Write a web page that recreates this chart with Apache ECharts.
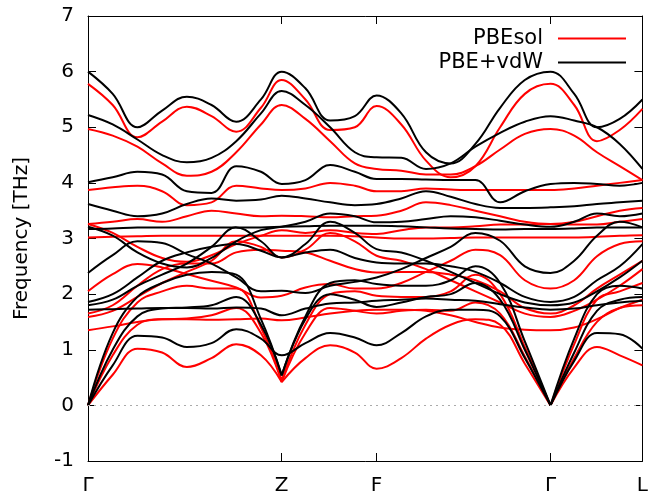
<!DOCTYPE html>
<html>
<head>
<meta charset="utf-8">
<script src="https://cdn.jsdelivr.net/npm/echarts@6/dist/echarts.min.js"></script>
<style>
  html, body { margin: 0; padding: 0; background: #fff; }
  #chart { width: 651px; height: 497px; }
</style>
</head>
<body>
<div id="chart"></div>
<script>
// path coordinate of each sample column (Γ at 0 ... L at 561)
const qPath = [0, 25, 50, 75, 100, 125, 150, 175, 196, 220, 245, 270, 292, 317, 342, 367, 392, 417, 442, 468, 492, 515, 538, 561];
const qTickPos = [0, 196, 292, 468, 561];
const qTickNames = ['Γ', 'Z', 'F', 'Γ', 'L'];
const posZ = 196, posGamma2 = 468;

// PBEsol bands (THz)
const sol1 = [0, 0.55, 1.02, 0.95, 0.69, 0.85, 1.1, 0.9, 0.42, 0.85, 1.08, 0.95, 0.66, 0.85, 1.2, 1.45, 1.55, 1.45, 0.75, 0, 0.68, 1.05, 0.9, 0.72];
const sol2 = [0, 0.9, 1.45, 1.55, 1.56, 1.62, 1.75, 1.3, 0.42, 1.3, 1.75, 1.7, 1.65, 1.7, 1.72, 1.7, 1.85, 1.65, 0.88, 0, 0.85, 1.5, 1.75, 1.8];
const sol3 = [0, 1.2, 1.85, 2.05, 2.15, 2.1, 2.1, 1.4, 0.45, 1.45, 2.0, 2.05, 1.97, 1.95, 1.95, 2.05, 2.35, 2.0, 1.05, 0, 1.1, 1.9, 2.05, 2.2];
const sol4 = [1.35, 1.42, 1.5, 1.55, 1.55, 1.54, 1.55, 1.56, 1.53, 1.58, 1.65, 1.7, 1.72, 1.72, 1.7, 1.62, 1.5, 1.4, 1.36, 1.35, 1.4, 1.55, 1.75, 1.9];
const sol5 = [1.59, 1.7, 1.95, 2.2, 2.4, 2.6, 2.95, 2.85, 2.66, 2.8, 3.1, 2.95, 2.69, 2.6, 2.45, 2.25, 2.05, 1.85, 1.65, 1.59, 1.7, 1.9, 2.15, 2.45];
const sol6 = [1.65, 1.8, 2.15, 2.45, 2.55, 2.55, 2.75, 2.8, 2.78, 2.75, 2.6, 2.45, 2.39, 2.4, 2.4, 2.35, 2.25, 2.05, 1.75, 1.65, 1.8, 2.1, 2.35, 2.6];
const sol7 = [2.05, 2.36, 2.54, 2.48, 2.36, 2.24, 2.12, 1.94, 1.97, 2.12, 2.18, 2.1, 2.1, 2.2, 2.4, 2.6, 2.8, 2.7, 2.25, 2.1, 2.25, 2.68, 2.9, 2.95];
const sol8 = [3.02, 3.03, 3.04, 3.05, 3.05, 3.05, 3.05, 3.05, 3.05, 3.05, 3.05, 3.04, 3.02, 3.0, 3.0, 3.01, 3.02, 3.02, 3.02, 3.02, 3.02, 3.03, 3.05, 3.06];
const sol9 = [3.26, 3.1, 2.85, 2.65, 2.58, 2.7, 2.9, 3.05, 3.15, 3.1, 3.15, 3.1, 3.08, 3.15, 3.2, 3.2, 3.22, 3.25, 3.25, 3.26, 3.25, 3.25, 3.3, 3.35];
const sol10 = [3.26, 3.3, 3.35, 3.3, 3.4, 3.5, 3.45, 3.4, 3.41, 3.4, 3.38, 3.4, 3.41, 3.5, 3.65, 3.6, 3.5, 3.4, 3.3, 3.26, 3.3, 3.4, 3.5, 3.55];
const sol11 = [3.87, 3.92, 3.95, 3.85, 3.6, 3.65, 3.95, 3.9, 3.87, 3.9, 4.0, 3.95, 3.85, 3.85, 3.9, 3.88, 3.87, 3.87, 3.87, 3.87, 3.9, 3.95, 4.0, 4.05];
const sol12 = [4.97, 4.85, 4.65, 4.35, 4.13, 4.2, 4.55, 5.05, 5.4, 5.15, 4.75, 4.35, 4.25, 4.22, 4.15, 4.15, 4.3, 4.6, 4.88, 4.97, 4.85, 4.55, 4.3, 4.05];
const sol13 = [5.78, 5.4, 4.82, 5.1, 5.37, 5.2, 4.92, 5.35, 5.85, 5.5, 4.95, 5.0, 5.38, 5.05, 4.4, 4.1, 4.3, 5.0, 5.6, 5.78, 5.4, 4.75, 4.95, 5.33];

// PBE+vdW bands (THz)
const vdw1 = [0, 0.72, 1.25, 1.22, 1.05, 1.12, 1.37, 1.2, 0.9, 1.12, 1.3, 1.22, 1.08, 1.3, 1.6, 1.72, 1.72, 1.6, 0.85, 0, 0.8, 1.3, 1.28, 1.02];
const vdw2 = [0, 1.0, 1.6, 1.74, 1.76, 1.8, 1.95, 1.45, 0.54, 1.55, 2.0, 1.9, 1.77, 1.85, 1.95, 2.0, 2.2, 1.9, 1.0, 0, 0.95, 1.7, 1.9, 1.95];
const vdw3 = [0, 1.3, 1.95, 2.2, 2.35, 2.4, 2.35, 1.55, 0.54, 1.6, 2.2, 2.25, 2.18, 2.15, 2.15, 2.25, 2.5, 2.2, 1.15, 0, 1.2, 2.0, 2.15, 2.1];
const vdw4 = [1.72, 1.73, 1.74, 1.75, 1.75, 1.74, 1.76, 1.74, 1.62, 1.74, 1.83, 1.85, 1.88, 1.9, 1.92, 1.9, 1.88, 1.82, 1.76, 1.72, 1.74, 1.8, 1.85, 1.88];
const vdw5 = [1.8, 1.9, 2.15, 2.35, 2.55, 2.85, 3.2, 2.95, 2.66, 2.9, 3.3, 3.1, 2.81, 2.75, 2.6, 2.4, 2.2, 2.0, 1.85, 1.8, 1.85, 2.05, 2.3, 2.6];
const vdw6 = [1.86, 2.0, 2.3, 2.6, 2.75, 2.85, 2.9, 2.78, 2.66, 2.75, 2.8, 2.65, 2.57, 2.55, 2.55, 2.5, 2.4, 2.2, 1.95, 1.86, 1.95, 2.25, 2.5, 2.9];
const vdw7 = [2.38, 2.7, 2.95, 2.92, 2.72, 2.55, 2.3, 2.05, 2.06, 2.02, 2.15, 2.22, 2.3, 2.45, 2.65, 2.85, 3.1, 2.96, 2.5, 2.38, 2.6, 3.05, 3.3, 3.2];
const vdw8 = [3.17, 3.18, 3.2, 3.2, 3.2, 3.2, 3.2, 3.2, 3.21, 3.22, 3.23, 3.23, 3.23, 3.22, 3.2, 3.18, 3.17, 3.16, 3.17, 3.17, 3.18, 3.2, 3.2, 3.2];
const vdw9 = [3.21, 3.05, 2.75, 2.55, 2.48, 2.65, 2.95, 3.15, 3.21, 3.3, 3.45, 3.4, 3.29, 3.3, 3.35, 3.4, 3.38, 3.32, 3.25, 3.21, 3.3, 3.45, 3.4, 3.45];
const vdw10 = [3.62, 3.5, 3.4, 3.45, 3.62, 3.72, 3.68, 3.7, 3.77, 3.72, 3.65, 3.6, 3.62, 3.72, 3.85, 3.75, 3.62, 3.55, 3.55, 3.56, 3.58, 3.62, 3.65, 3.68];
const vdw11 = [4.01, 4.1, 4.2, 4.15, 3.85, 3.82, 4.3, 4.2, 3.98, 4.05, 4.32, 4.2, 4.07, 4.07, 4.06, 4.05, 4.05, 3.65, 3.85, 3.98, 4.0, 3.98, 3.95, 4.0];
const vdw12 = [5.22, 5.05, 4.78, 4.5, 4.37, 4.45, 4.75, 5.25, 5.65, 5.4, 5.0, 4.55, 4.46, 4.45, 4.25, 4.35, 4.65, 4.9, 5.1, 5.2, 5.12, 5.0, 4.7, 4.25];
const vdw13 = [6.0, 5.6, 5.0, 5.3, 5.55, 5.4, 5.1, 5.5, 6.0, 5.7, 5.12, 5.2, 5.57, 5.25, 4.55, 4.35, 4.7, 5.35, 5.85, 6.0, 5.6, 5.0, 5.15, 5.5];

const solBands = [sol1, sol2, sol3, sol4, sol5, sol6, sol7, sol8, sol9, sol10, sol11, sol12, sol13];
const vdwBands = [vdw1, vdw2, vdw3, vdw4, vdw5, vdw6, vdw7, vdw8, vdw9, vdw10, vdw11, vdw12, vdw13];
// acoustic branches that meet in a sharp V at Z
const solVAtZ = [sol1, sol2, sol3];
const vdwVAtZ = [vdw2, vdw3];
const acoustic = [sol1, sol2, sol3, vdw1, vdw2, vdw3];

const chart = echarts.init(document.getElementById('chart'));

function bandSeries(name, color, band) {
  const breaks = [];
  if (acoustic.includes(band)) breaks.push(posGamma2);
  if (solVAtZ.includes(band) || vdwVAtZ.includes(band)) breaks.push(posZ);
  const data = [];
  band.forEach((v, i) => {
    data.push([qPath[i], v]);
    if (breaks.includes(qPath[i])) {
      data.push([qPath[i], null]);
      data.push([qPath[i], v]);
    }
  });
  return {
    name: name,
    type: 'line',
    data: data,
    smooth: 0.4,
    connectNulls: false,
    symbol: 'none',
    silent: true,
    animation: false,
    lineStyle: { color: color, width: 2 },
    itemStyle: { color: color }
  };
}

const series = [];
solBands.forEach(b => series.push(bandSeries('PBEsol', '#ff0000', b)));
vdwBands.forEach(b => series.push(bandSeries('PBE+vdW', '#000000', b)));

// dotted zero line
series[0].markLine = {
  silent: true,
  symbol: 'none',
  label: { show: false },
  lineStyle: { color: '#aaaaaa', type: [2, 4], width: 1 },
  data: [{ yAxis: 0 }]
};

const axisFont = { fontFamily: 'DejaVu Sans', fontSize: 20, color: '#000' };
const frameLine = { show: true, onZero: false, lineStyle: { color: '#000', width: 1 } };

chart.setOption({
  animation: false,
  grid: { left: 88, right: 2, top: 16, bottom: 36 },
  legend: {
    data: ['PBEsol', 'PBE+vdW'],
    orient: 'vertical',
    right: 25,
    top: 28,
    padding: 0,
    align: 'right',
    icon: 'rect',
    itemWidth: 68,
    itemHeight: 2,
    itemGap: 3,
    textStyle: { fontFamily: 'DejaVu Sans', fontSize: 21, color: '#000', padding: [0, 10, 0, 0] }
  },
  xAxis: [{
    type: 'value',
    min: 0,
    max: 561,
    axisLine: frameLine,
    axisTick: { show: true, inside: true, length: 8, customValues: qTickPos, lineStyle: { color: '#000' } },
    axisLabel: {
      show: true,
      customValues: qTickPos,
      margin: 15,
      formatter: v => qTickNames[qTickPos.indexOf(v)],
      ...axisFont
    },
    splitLine: { show: false }
  }, {
    type: 'value',
    position: 'top',
    min: 0,
    max: 561,
    axisLine: frameLine,
    axisTick: { show: true, inside: true, length: 8, customValues: qTickPos, lineStyle: { color: '#000' } },
    axisLabel: { show: false },
    splitLine: { show: false }
  }],
  yAxis: [{
    type: 'value',
    min: -1,
    max: 7,
    interval: 1,
    name: 'Frequency [THz]',
    nameLocation: 'middle',
    nameGap: 56,
    nameTextStyle: { fontFamily: 'DejaVu Sans', fontSize: 20, color: '#000' },
    axisLine: frameLine,
    axisTick: { show: true, inside: true, length: 8, lineStyle: { color: '#000' } },
    axisLabel: { margin: 14, ...axisFont },
    splitLine: { show: false }
  }, {
    type: 'value',
    position: 'right',
    min: -1,
    max: 7,
    interval: 1,
    axisLine: frameLine,
    axisTick: { show: true, inside: true, length: 8, lineStyle: { color: '#000' } },
    axisLabel: { show: false },
    splitLine: { show: false }
  }],
  series: series
});
</script>
</body>
</html>
